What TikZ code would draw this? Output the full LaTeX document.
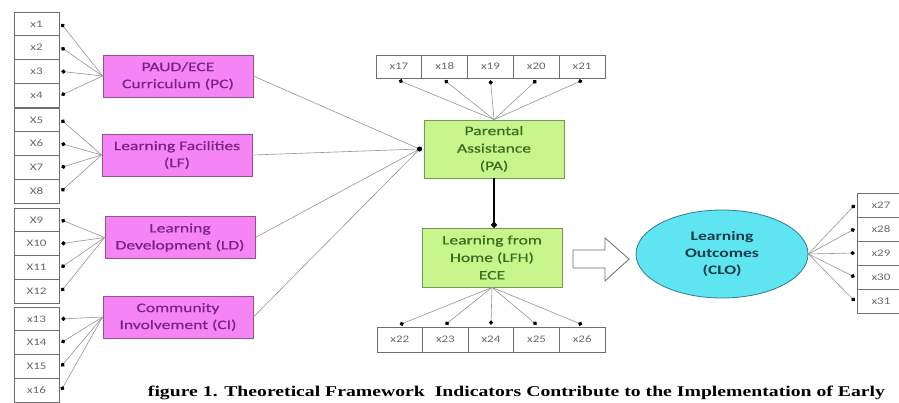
\documentclass[tikz,border=0pt]{standalone}
\usepackage{fontspec}
\setmainfont{Carlito}
\newfontfamily\widefont[FakeStretch=1.35,FakeBold=0.5]{Carlito}
\newfontfamily\widebold[FakeStretch=1.35]{Carlito}
\newfontfamily\smallwide[FakeStretch=1.3]{Carlito}
\newfontfamily\capfont{Liberation Serif}
\usetikzlibrary{arrows.meta,shapes.geometric}
\definecolor{linegray}{RGB}{150,150,150}
\definecolor{boxgray}{RGB}{110,110,110}
\definecolor{idxtext}{RGB}{105,105,105}
\definecolor{pinkfill}{RGB}{245,132,245}
\definecolor{pinkdraw}{RGB}{150,80,150}
\definecolor{pinktext}{RGB}{120,35,130}
\definecolor{greenfill}{RGB}{200,244,140}
\definecolor{greendraw}{RGB}{120,150,90}
\definecolor{greentext}{RGB}{55,110,30}
\definecolor{cyanfill}{RGB}{95,228,242}
\definecolor{cyandraw}{RGB}{50,125,140}
\definecolor{cyantext}{RGB}{20,60,70}
\tikzset{
  ind/.style={draw=boxgray, line width=0.7pt, fill=white, text=idxtext, inner sep=0pt,
    font=\smallwide\fontsize{10}{12}\selectfont},
  pinkbox/.style={draw=pinkdraw, line width=0.8pt, fill=pinkfill, text=pinktext, align=center,
    minimum width=150pt, minimum height=42pt, inner sep=0pt, font=\widefont\fontsize{13}{17}\selectfont},
  greenbox/.style={draw=greendraw, line width=0.8pt, fill=greenfill, text=greentext, align=center,
    minimum width=140pt, minimum height=58pt, inner sep=0pt, font=\widefont\fontsize{13}{17.5}\selectfont},
  link/.style={draw=linegray, line width=0.6pt},
  dotlink/.style={link, -{Circle[length=4.2pt, color=black, fill=black]}},
}
\begin{document}
\begin{tikzpicture}[x=1pt,y=-1pt]
\clip (0,0) rectangle (899,402);
\fill[white] (0,0) rectangle (899,402);
% left indicator boxes
\foreach \n/\t/\y in {1/x1/23.9, 2/x2/47.6, 3/x3/71.4, 4/x4/95.1,
  5/X5/119.9, 6/X6/143.6, 7/X7/167.4, 8/X8/191.1,
  9/X9/219.9, 10/X10/243.6, 11/X11/267.4, 12/X12/291.1,
  13/x13/318.9, 14/X14/342.6, 15/X15/366.4, 16/x16/390.1}
  \node[ind, minimum width=45pt, minimum height=23.75pt] (x\n) at (36.5,\y) {\t};
% top indicator boxes
\foreach \n/\x in {17/398.9, 18/444.7, 19/490.5, 20/536.3, 21/582.1}
  \node[ind, minimum width=45.8pt, minimum height=23pt] (x\n) at (\x,66.5) {x\n};
% bottom indicator boxes
\foreach \n/\x in {22/399.8, 23/445.4, 24/491, 25/536.6, 26/582.2}
  \node[ind, minimum width=45.6pt, minimum height=25pt] (x\n) at (\x,339.5) {x\n};
% right indicator boxes
\foreach \n/\y in {27/205, 28/229, 29/253, 30/277, 31/301}
  \node[ind, minimum width=48pt, minimum height=24pt] (x\n) at (881,\y) {x\n};
% construct boxes
\node[pinkbox] (pc) at (178,76) {PAUD/ECE\\Curriculum (PC)};
\node[pinkbox] (lf) at (177,155) {Learning Facilities\\(LF)};
\node[pinkbox] (ld) at (180,237.5) {Learning\\Development (LD)};
\node[pinkbox] (ci) at (178,317) {Community\\Involvement (CI)};
\node[greenbox] (pa) at (494,149) {Parental\\Assistance\\(PA)};
\node[greenbox, minimum height=59pt] (lfh) at (492,257.5) {Learning from\\Home (LFH)\\ECE};
\node[ellipse, draw=cyandraw, line width=0.8pt, fill=cyanfill, text=cyantext, align=center,
  minimum width=172pt, minimum height=88pt, inner sep=0pt,
  font=\widebold\fontsize{13}{17}\selectfont\bfseries] (clo) at (722,254) {Learning\\Outcomes\\(CLO)};
% left links
\foreach \i in {1,2,3,4} \draw[dotlink] (pc.west) -- ([xshift=2pt]x\i.east);
\foreach \i in {5,6,7,8} \draw[dotlink] (lf.west) -- ([xshift=2pt]x\i.east);
\foreach \i in {9,10,11,12} \draw[dotlink] (ld.west) -- ([xshift=2pt]x\i.east);
\foreach \i in {13,14,15,16} \draw[dotlink] (ci.west) -- ([xshift=2pt]x\i.east);
% links into PA
\coordinate (padot) at ([xshift=-4pt]pa.west);
\foreach \s in {pc,lf,ld,ci} \draw[link] (\s.east) -- (padot);
\fill[black] (padot) circle (2.6pt);
% PA to top indicators
\foreach \i in {17,18,19,20,21} \draw[dotlink] (pa.north) -- ([yshift=-2pt]x\i.south);
% PA to LFH
\draw[line width=2.3pt, -{Circle[length=5.5pt]}] (pa.south) -- (pa.south |- lfh.north);
% LFH to bottom indicators
\foreach \i in {22,23,24,25,26} \draw[dotlink] (lfh.south) -- ([yshift=2pt]x\i.north);
% CLO to right indicators
\foreach \i in {27,28,29,30,31} \draw[dotlink] (clo.east) -- ([xshift=-2pt]x\i.west);
% hollow arrow
\draw[draw=boxgray, line width=0.8pt, fill=white]
  (573,250) -- (605,250) -- (605,238) -- (629,259) -- (605,281) -- (605,268) -- (573,268) -- cycle;
% caption
\node (cap) at (516.5,392.5) {\resizebox{737pt}{10.5pt}{\capfont\bfseries figure 1. Theoretical Framework~ Indicators Contribute to the Implementation of Early}};
\end{tikzpicture}
\end{document}
